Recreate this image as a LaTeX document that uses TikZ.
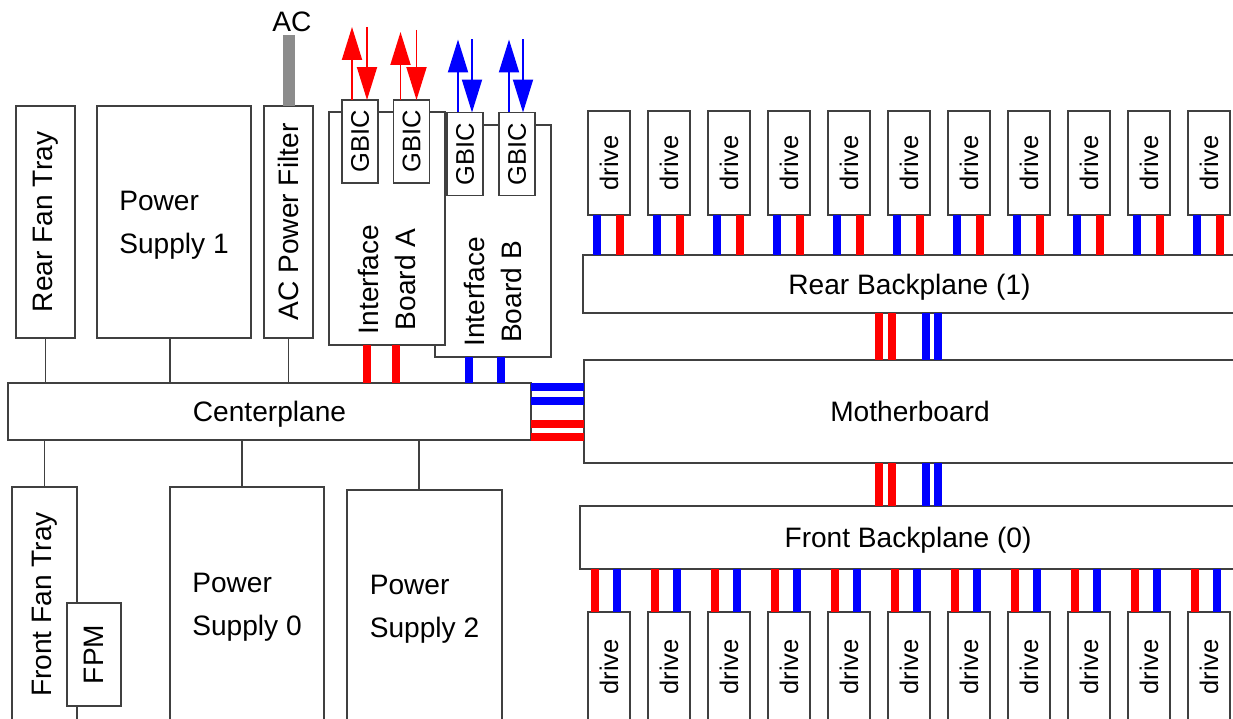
\documentclass[tikz,border=0pt]{standalone}
\usepackage{fontspec}
\setmainfont{Liberation Sans}
\usetikzlibrary{arrows.meta}
\newlength{\pxu}
\setlength{\pxu}{0.02cm}

\begin{document}
\begin{tikzpicture}[
    x=0.02cm, y=-0.02cm,
    box/.style={draw=black!75, line width=0.7pt, fill=white, inner sep=0pt, outer sep=0pt, text depth=0pt, font=\fontsize{16}{24.4}\selectfont},
    vtext/.style={rotate=90, inner sep=0pt, font=\fontsize{16}{21}\selectfont, align=center},
    drive/.style={box, minimum width=42\pxu, label={[rotate=90, font=\fontsize{14.5}{17}\selectfont]center:drive}},
    gbic/.style={box, minimum width=36\pxu, minimum height=83\pxu, label={[rotate=90, font=\fontsize{14.5}{17}\selectfont]center:GBIC}},
    wire/.style={draw=black!75, line width=0.7pt},
    redlink/.style={draw=red, line width=0.15cm},
    bluelink/.style={draw=blue, line width=0.15cm},
    sigarrow/.style={-{Triangle[length=0.66cm, width=0.4cm]}, line width=1.1pt},
    accable/.style={draw=gray!90, line width=0.24cm},
]
\useasboundingbox (0,0) rectangle (1233,719);

% Rear side
\node[box, minimum width=59\pxu, minimum height=232\pxu, label={[vtext]center:Rear Fan Tray}] (rearfan) at (45.5,222) {};
\node[box, minimum width=154\pxu, minimum height=232\pxu, align=left] (ps1) at (174,222) {Power\\Supply 1};
\node[box, minimum width=49\pxu, minimum height=232\pxu, label={[vtext]center:AC Power Filter}] (acf) at (288.5,222) {};
\node[font=\fontsize{16}{19}\selectfont, inner sep=0pt, outer sep=3\pxu] (ac) at (292,22) {AC};
\draw[accable] (acf.north) -- (acf.north |- ac.south);

% Interface boards
\node[box, minimum width=116\pxu, minimum height=232\pxu] (ifb) at (493,241) {};
\node[vtext] (ifbtext) at ([yshift=-51\pxu]ifb.center) {Interface\\Board B};
\node[box, minimum width=116\pxu, minimum height=233\pxu] (ifa) at (387,228.5) {};
\node[vtext] (ifatext) at ([yshift=-51\pxu]ifa.center) {Interface\\Board A};
\node[gbic] (ga1) at (360,141.5) {};
\node[gbic] (ga2) at (411.5,141.5) {};
\node[gbic] (gb1) at (465,154) {};
\node[gbic] (gb2) at (517,154) {};

% GBIC links
\draw[sigarrow, red] ([xshift=-8\pxu]ga1.north) -- ++(0,-73);
\draw[sigarrow, red] ([xshift=7\pxu, yshift=73\pxu]ga1.north) -- ([xshift=7\pxu]ga1.north);
\draw[sigarrow, red] ([xshift=-11\pxu]ga2.north) -- ++(0,-68);
\draw[sigarrow, red] ([xshift=5\pxu, yshift=70\pxu]ga2.north) -- ([xshift=5\pxu]ga2.north);
\draw[sigarrow, blue] ([xshift=-7\pxu]gb1.north) -- ++(0,-73);
\draw[sigarrow, blue] ([xshift=7\pxu, yshift=73\pxu]gb1.north) -- ([xshift=7\pxu]gb1.north);
\draw[sigarrow, blue] ([xshift=-8\pxu]gb2.north) -- ++(0,-73);
\draw[sigarrow, blue] ([xshift=6\pxu, yshift=73\pxu]gb2.north) -- ([xshift=6\pxu]gb2.north);

% Centerplane
\node[box, minimum width=523\pxu, minimum height=57\pxu] (cp) at (269.5,411.5) {Centerplane};
\draw[wire] (rearfan.south) -- (rearfan.south |- cp.north);
\draw[wire] ([xshift=-4\pxu]ps1.south) -- ([xshift=-4\pxu]ps1.south |- cp.north);
\draw[wire] (acf.south) -- (acf.south |- cp.north);
\foreach \dx in {-20,9}
  \draw[redlink] ([xshift=\dx\pxu]ifa.south) -- ([xshift=\dx\pxu]ifa.south |- cp.north);
\foreach \dx in {-24,8}
  \draw[bluelink] ([xshift=\dx\pxu]ifb.south) -- ([xshift=\dx\pxu]ifb.south |- cp.north);

% Front side
\node[box, minimum width=65\pxu, minimum height=235\pxu, label={[vtext]center:Front Fan Tray}] (fft) at (44.5,604.5) {};
\node[box, minimum width=54\pxu, minimum height=103\pxu, label={[vtext]center:FPM}] (fpm) at (94,654.5) {};
\node[box, minimum width=154\pxu, minimum height=235\pxu, align=left] (ps0) at (247,604.5) {Power\\Supply 0};
\node[box, minimum width=155\pxu, minimum height=232\pxu, align=left] (ps2) at (424.5,606) {Power\\Supply 2};
\draw[wire] (fft.north) -- (fft.north |- cp.south);
\draw[wire] ([xshift=-5\pxu]ps0.north) -- ([xshift=-5\pxu]ps0.north |- cp.south);
\draw[wire] ([xshift=-5.5\pxu]ps2.north) -- ([xshift=-5.5\pxu]ps2.north |- cp.south);

% Motherboard and backplanes
\node[box, minimum width=652\pxu, minimum height=103\pxu] (mb) at (910,411.5) {Motherboard};
\node[box, minimum width=653\pxu, minimum height=58\pxu] (rbp) at (909.5,284) {Rear Backplane (1)};
\node[box, minimum width=656\pxu, minimum height=63\pxu] (fbp) at (908,537.5) {Front Backplane (0)};
\foreach \dy in {24.5,10.5}
  \draw[bluelink] ([yshift=\dy\pxu]cp.east) -- ([yshift=\dy\pxu]cp.east -| mb.west);
\foreach \dy in {-12.5,-25.5}
  \draw[redlink] ([yshift=\dy\pxu]cp.east) -- ([yshift=\dy\pxu]cp.east -| mb.west);
\foreach \dx in {-31,-18} {
  \draw[redlink] ([xshift=\dx\pxu]mb.north) -- ([xshift=\dx\pxu]mb.north |- rbp.south);
  \draw[redlink] ([xshift=\dx\pxu]mb.south) -- ([xshift=\dx\pxu]mb.south |- fbp.north);
}
\foreach \dx in {16,28} {
  \draw[bluelink] ([xshift=\dx\pxu]mb.north) -- ([xshift=\dx\pxu]mb.north |- rbp.south);
  \draw[bluelink] ([xshift=\dx\pxu]mb.south) -- ([xshift=\dx\pxu]mb.south |- fbp.north);
}

% Drives
\foreach \i in {0,...,10} {
  \node[drive, minimum height=104\pxu] (dt\i) at ({609+60*\i},163) {};
  \node[drive, minimum height=110\pxu] (db\i) at ({609+60*\i},667) {};
  \draw[bluelink] ([xshift=-12\pxu]dt\i.south) -- ([xshift=-12\pxu]dt\i.south |- rbp.north);
  \draw[redlink] ([xshift=11\pxu]dt\i.south) -- ([xshift=11\pxu]dt\i.south |- rbp.north);
  \draw[redlink] ([xshift=-14\pxu]db\i.north) -- ([xshift=-14\pxu]db\i.north |- fbp.south);
  \draw[bluelink] ([xshift=8\pxu]db\i.north) -- ([xshift=8\pxu]db\i.north |- fbp.south);
}

\end{tikzpicture}
\end{document}
